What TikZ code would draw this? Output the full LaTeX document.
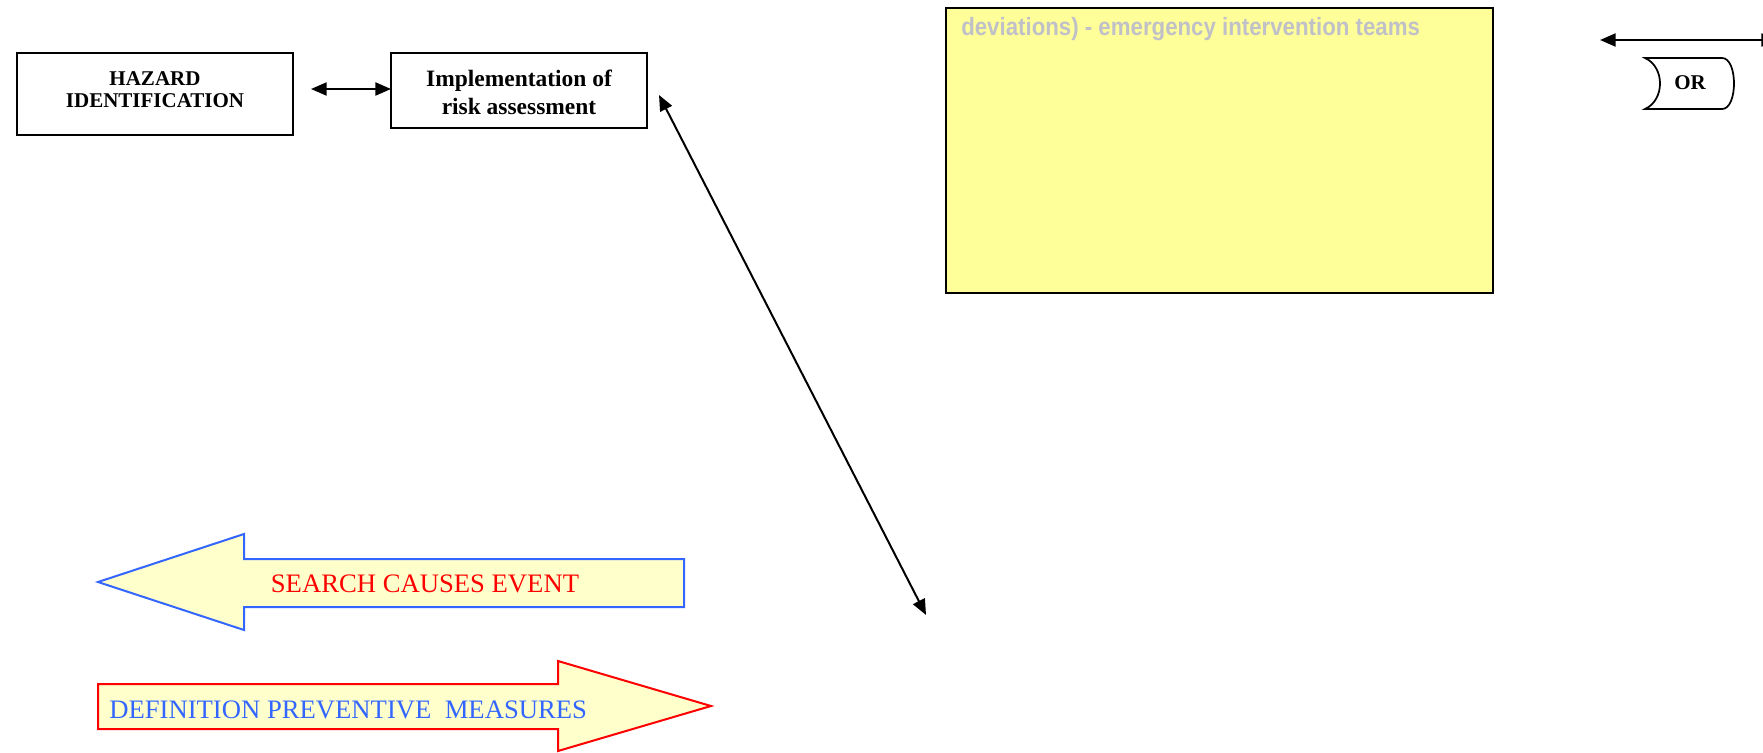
\documentclass[tikz,border=0pt]{standalone}
\usepackage{fontspec}
\usepackage{graphicx}
\setmainfont{Liberation Serif}
\newfontfamily\arialfont{Liberation Sans}
\usetikzlibrary{arrows.meta,fit}
\definecolor{blueline}{RGB}{51,102,255}
\definecolor{redline}{RGB}{255,0,0}
\definecolor{arrowfill}{RGB}{255,255,204}
\definecolor{boxyellow}{RGB}{255,255,153}
\definecolor{graytext}{RGB}{192,192,200}
\begin{document}
\begin{tikzpicture}[x=0.75pt,y=-0.75pt,
  box/.style={draw=black, line width=1.5pt, inner sep=0pt},
  conn/.style={line width=1.5pt, {Triangle[length=11.7pt,width=9.75pt]}-{Triangle[length=11.7pt,width=9.75pt]}},
  txt/.style={inner sep=0pt, align=center},
  blockarrow/.style={line width=1.5pt, fill=arrowfill, line join=miter}
]
\useasboundingbox (0,0) rectangle (1763,753);

% top-left boxes
\node[box, fit={(17,53) (293,135)}] (haz) {};
\node[txt, font=\bfseries\fontsize{15.75}{16.5}\selectfont] (hazt) at (155,89.5) {HAZARD\\IDENTIFICATION};
\node[box, fit={(391,53) (647,128)}] (impl) {};
\node[txt, font=\bfseries\fontsize{17.6}{21}\selectfont] (implt) at (519,92.5) {Implementation of\\risk assessment};

\coordinate (c1) at (311,89);
\coordinate (c2) at (391,89);
\draw[conn] (c1) -- (c2);

% diagonal connector
\coordinate (d1) at (659,95);
\coordinate (d2) at (926,615);
\draw[conn] (d1) -- (d2);

% yellow box
\node[draw=black, line width=2pt, fill=boxyellow, inner sep=0pt, fit={(946,8) (1493,293)}] (ybox) {};
\node[anchor=base west, inner sep=0pt, text=graytext, font=\arialfont\bfseries\fontsize{18.75}{22}\selectfont] (ytxt) at (961,35) {\scalebox{0.89}[1]{deviations) - emergency intervention teams}};

% OR gate and arrow
\coordinate (o1) at (1600,40);
\coordinate (o2) at (1777,40);
\draw[conn] (o1) -- (o2);
\draw[line width=1.3pt] (1645,58) -- (1722,58) .. controls (1738,58) and (1738,109) .. (1722,109) -- (1645,109) .. controls (1665,100) and (1665,67) .. (1645,58) -- cycle;
\node[anchor=base, inner sep=0pt, font=\bfseries\fontsize{15.75}{18}\selectfont] (ortxt) at (1690,89) {OR};

% block arrows
\draw[blockarrow, draw=blueline] (98,582) -- (244,534) -- (244,559) -- (684,559) -- (684,607) -- (244,607) -- (244,630) -- cycle;
\node[anchor=base, inner sep=0pt, text=redline, font=\fontsize{20}{24}\selectfont] (search) at (425,592) {SEARCH CAUSES EVENT};

\draw[blockarrow, draw=redline] (98,684) -- (558,684) -- (558,661) -- (711,706) -- (558,751) -- (558,729) -- (98,729) -- cycle;
\node[anchor=base west, inner sep=0pt, text=blueline, font=\fontsize{20}{24}\selectfont] (defn) at (109,718) {DEFINITION PREVENTIVE~~MEASURES};
\end{tikzpicture}
\end{document}
